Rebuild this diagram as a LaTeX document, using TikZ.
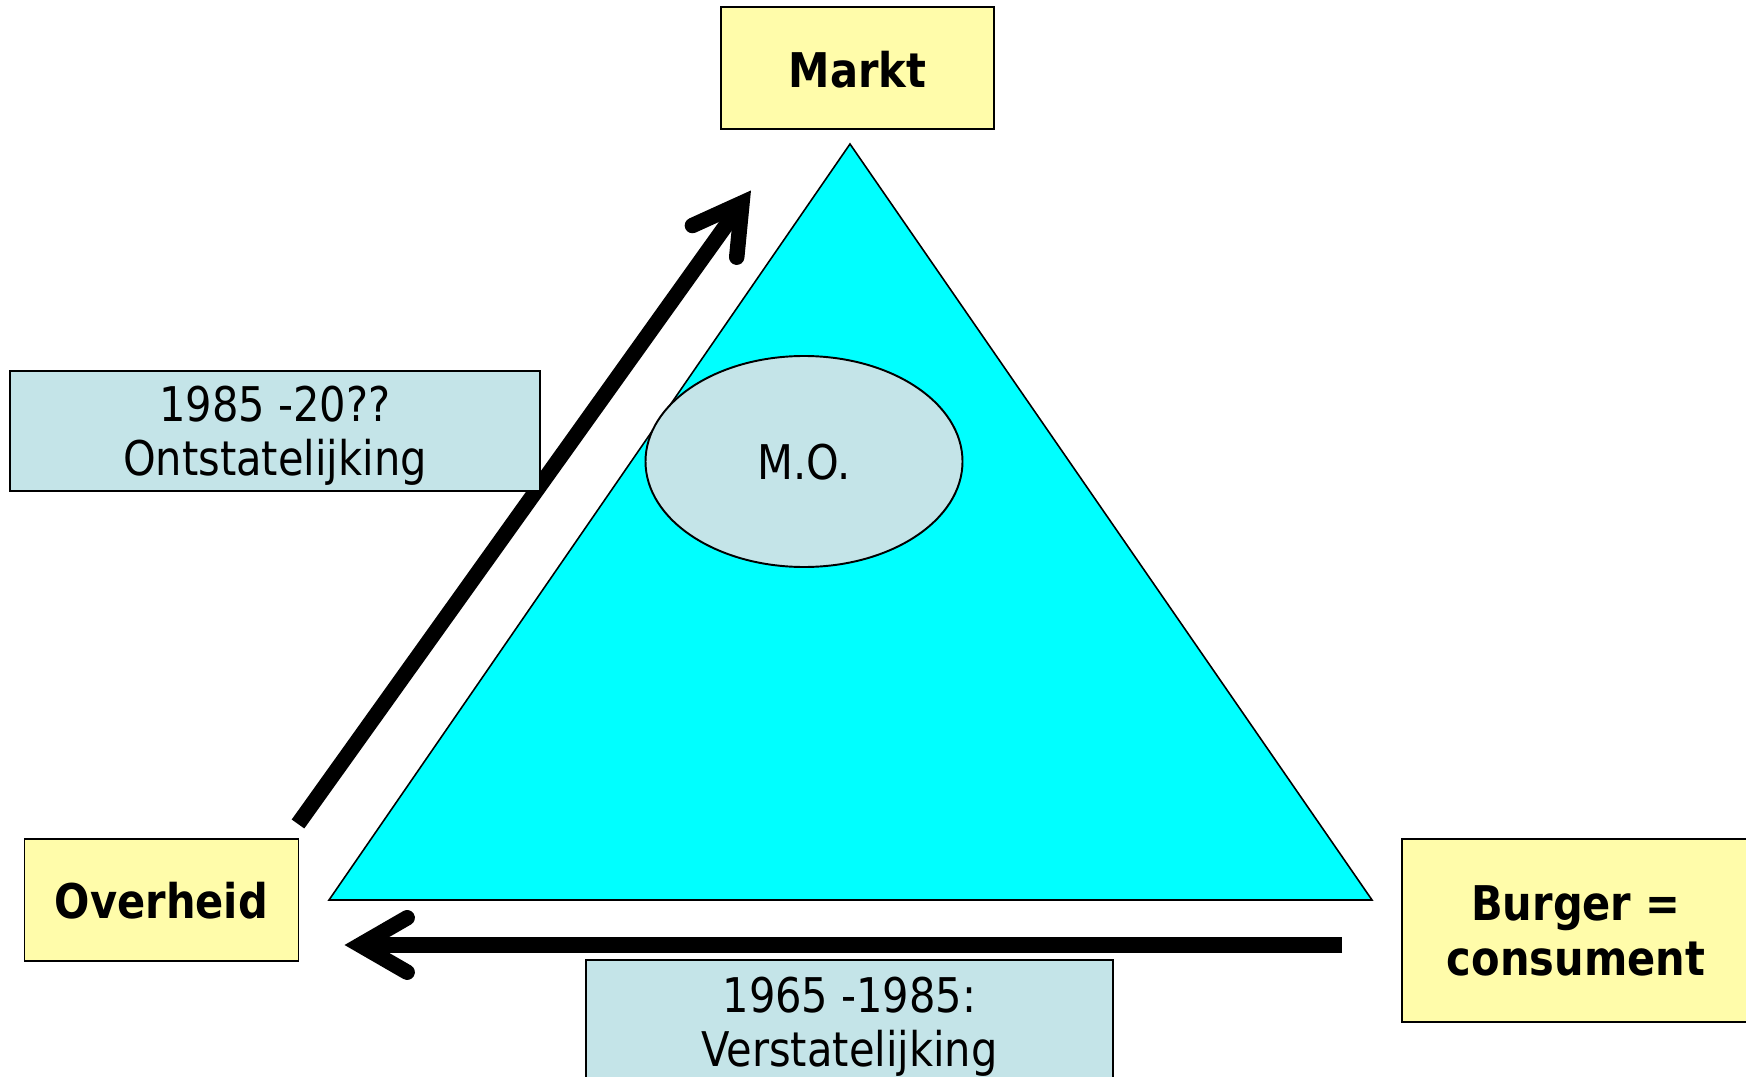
\documentclass[tikz,border=0pt]{standalone}
\usepackage{fontspec}
\setmainfont{DejaVu Sans}[FakeStretch=0.87]
\usetikzlibrary{calc}
\definecolor{boxyellow}{HTML}{FFFCAA}
\definecolor{boxblue}{HTML}{C4E4E8}
\definecolor{trianglecyan}{HTML}{00FFFF}
\tikzset{
  yellowbox/.style={draw=black, fill=boxyellow, line width=1.1pt},
  bluebox/.style={draw=black, fill=boxblue, line width=1.1pt},
  boxlabel/.style={inner sep=0pt, align=center, font=\fontsize{27.2}{30.6}\selectfont},
  boldlabel/.style={inner sep=0pt, align=center, font=\fontsize{27.2}{31.7}\selectfont\bfseries},
  bigarrow/.style={black, line width=8.8pt},
}
\begin{document}
\begin{tikzpicture}[scale=0.2]
	\useasboundingbox (0,0) rectangle (174.6,-107.7);
	% triangle with M.O.
	\draw [black, fill=trianglecyan, line width=0.9pt] (85,-14.4) -- (137.2,-90) -- (32.9,-90) -- cycle;
	\draw [bluebox] (80.4,-46.15) ellipse (15.85 and 10.55);
	\node [boxlabel] (mo) at (80.4,-46.2) {M.O.};
	% 1985 -20??
	\coordinate (ontTail) at (29.8,-82.4);
	\coordinate (ontTip) at (74.2,-20.3);
	\draw [bigarrow] (ontTail) -- (ontTip);
	\draw [bigarrow, line cap=round, line join=miter] ($(ontTip)!155pt!30:(ontTail)$) -- (ontTip) -- ($(ontTip)!155pt!-30:(ontTail)$);
	\draw [bluebox] (1,-37.1) rectangle (54,-49.1);
	\node [boxlabel] (ont) at (27.5,-43.6) {1985 -20??\\Ontstatelijking};
	% corners
	\draw [yellowbox] (72.1,-0.73) rectangle (99.4,-12.93);
	\node [boldlabel] (markt) at (85.75,-7.0) {Markt};
	\draw [yellowbox] (2.45,-83.9) rectangle (29.85,-96.1);
	\node [boldlabel] (overheid) at (16.15,-90.1) {Overheid};
	\draw [yellowbox] (140.2,-83.9) rectangle (175,-102.2);
	\node [boldlabel] (burger) at (157.6,-93.1) {Burger =\\consument};
	% 1965 -1985
	\coordinate (verTail) at (134.2,-94.5);
	\coordinate (verTip) at (36,-94.5);
	\draw [bigarrow] (verTail) -- (verTip);
	\draw [bigarrow, line cap=round, line join=miter] ($(verTip)!155pt!30:(verTail)$) -- (verTip) -- ($(verTip)!155pt!-30:(verTail)$);
	\draw [bluebox] (58.6,-96) rectangle (111.3,-108.4);
	\node [boxlabel] (ver) at (84.95,-102.7) {1965 -1985:\\Verstatelijking};
\end{tikzpicture}
\end{document}
